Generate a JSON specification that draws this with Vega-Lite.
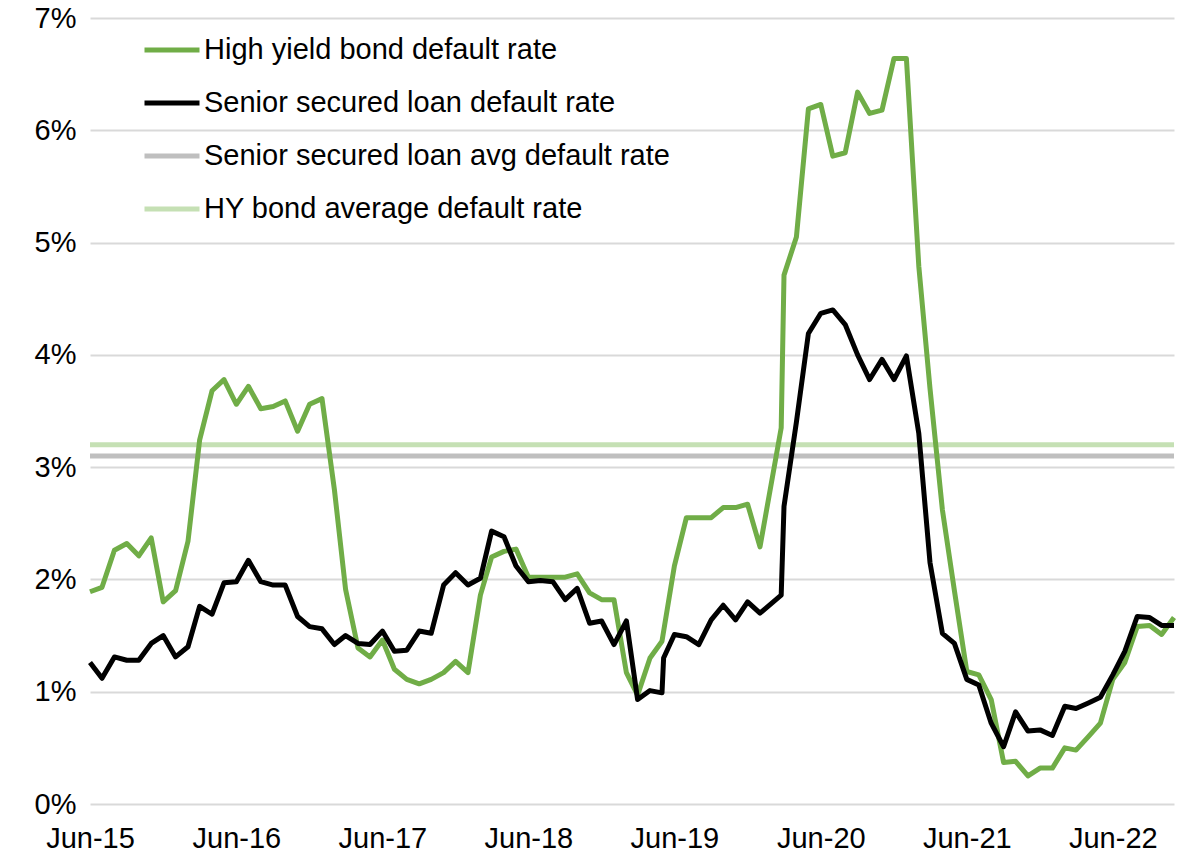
{
  "$schema": "https://vega.github.io/schema/vega-lite/v6.json",
  "width": 1084,
  "height": 786,
  "autosize": "none",
  "padding": {"left": 90, "top": 18, "right": 4, "bottom": 60},
  "background": "white",
  "config": {
    "view": {"stroke": null},
    "font": "Liberation Sans",
    "axis": {"labelFont": "Liberation Sans", "labelColor": "#000000", "labelFontSize": 29}
  },
  "datasets": {
    "rates": [
      {"date": "2015-06-01", "hy": 1.89, "loan": 1.26},
      {"date": "2015-07-01", "hy": 1.93, "loan": 1.12},
      {"date": "2015-08-01", "hy": 2.26, "loan": 1.31},
      {"date": "2015-09-01", "hy": 2.32, "loan": 1.28},
      {"date": "2015-10-01", "hy": 2.21, "loan": 1.28},
      {"date": "2015-11-01", "hy": 2.37, "loan": 1.43},
      {"date": "2015-12-01", "hy": 1.80, "loan": 1.50},
      {"date": "2016-01-01", "hy": 1.90, "loan": 1.31},
      {"date": "2016-02-01", "hy": 2.34, "loan": 1.40},
      {"date": "2016-03-01", "hy": 3.24, "loan": 1.76},
      {"date": "2016-04-01", "hy": 3.68, "loan": 1.69},
      {"date": "2016-05-01", "hy": 3.78, "loan": 1.97},
      {"date": "2016-06-01", "hy": 3.56, "loan": 1.98},
      {"date": "2016-07-01", "hy": 3.72, "loan": 2.17},
      {"date": "2016-08-01", "hy": 3.52, "loan": 1.98},
      {"date": "2016-09-01", "hy": 3.54, "loan": 1.95},
      {"date": "2016-10-01", "hy": 3.59, "loan": 1.95},
      {"date": "2016-11-01", "hy": 3.32, "loan": 1.67},
      {"date": "2016-12-01", "hy": 3.56, "loan": 1.58},
      {"date": "2017-01-01", "hy": 3.61, "loan": 1.56},
      {"date": "2017-02-01", "hy": 2.80, "loan": 1.42},
      {"date": "2017-03-01", "hy": 1.91, "loan": 1.50},
      {"date": "2017-04-01", "hy": 1.39, "loan": 1.43},
      {"date": "2017-05-01", "hy": 1.31, "loan": 1.42},
      {"date": "2017-06-01", "hy": 1.46, "loan": 1.54},
      {"date": "2017-07-01", "hy": 1.20, "loan": 1.36},
      {"date": "2017-08-01", "hy": 1.11, "loan": 1.37},
      {"date": "2017-09-01", "hy": 1.07, "loan": 1.54},
      {"date": "2017-10-01", "hy": 1.11, "loan": 1.52},
      {"date": "2017-11-01", "hy": 1.17, "loan": 1.95},
      {"date": "2017-12-01", "hy": 1.27, "loan": 2.06},
      {"date": "2018-01-01", "hy": 1.17, "loan": 1.95},
      {"date": "2018-02-01", "hy": 1.86, "loan": 2.01},
      {"date": "2018-03-01", "hy": 2.20, "loan": 2.43},
      {"date": "2018-04-01", "hy": 2.25, "loan": 2.38},
      {"date": "2018-05-01", "hy": 2.27, "loan": 2.12},
      {"date": "2018-06-01", "hy": 2.02, "loan": 1.98},
      {"date": "2018-07-01", "hy": 2.02, "loan": 1.99},
      {"date": "2018-08-01", "hy": 2.02, "loan": 1.98},
      {"date": "2018-09-01", "hy": 2.02, "loan": 1.82},
      {"date": "2018-10-01", "hy": 2.05, "loan": 1.92},
      {"date": "2018-11-01", "hy": 1.88, "loan": 1.61},
      {"date": "2018-12-01", "hy": 1.82, "loan": 1.63},
      {"date": "2019-01-01", "hy": 1.82, "loan": 1.42},
      {"date": "2019-02-01", "hy": 1.17, "loan": 1.63},
      {"date": "2019-03-01", "hy": 0.97, "loan": 0.93},
      {"date": "2019-04-01", "hy": 1.30, "loan": 1.01},
      {"date": "2019-05-01", "hy": 1.45, "loan": 0.99},
      {"date": "2019-05-05", "hy": null, "loan": 1.30},
      {"date": "2019-06-01", "hy": 2.12, "loan": 1.51},
      {"date": "2019-07-01", "hy": 2.55, "loan": 1.49},
      {"date": "2019-08-01", "hy": 2.55, "loan": 1.42},
      {"date": "2019-09-01", "hy": 2.55, "loan": 1.64},
      {"date": "2019-10-01", "hy": 2.64, "loan": 1.77},
      {"date": "2019-11-01", "hy": 2.64, "loan": 1.64},
      {"date": "2019-12-01", "hy": 2.67, "loan": 1.80},
      {"date": "2020-01-01", "hy": 2.29, "loan": 1.70},
      {"date": "2020-02-23", "hy": 3.35, "loan": 1.86},
      {"date": "2020-03-01", "hy": 4.71, "loan": 2.65},
      {"date": "2020-04-01", "hy": 5.05, "loan": 3.40},
      {"date": "2020-05-01", "hy": 6.19, "loan": 4.19},
      {"date": "2020-06-01", "hy": 6.23, "loan": 4.37},
      {"date": "2020-07-01", "hy": 5.77, "loan": 4.40},
      {"date": "2020-08-01", "hy": 5.80, "loan": 4.27},
      {"date": "2020-09-01", "hy": 6.34, "loan": 4.00},
      {"date": "2020-10-01", "hy": 6.15, "loan": 3.78},
      {"date": "2020-11-01", "hy": 6.18, "loan": 3.96},
      {"date": "2020-12-01", "hy": 6.64, "loan": 3.78},
      {"date": "2021-01-01", "hy": 6.64, "loan": 3.99},
      {"date": "2021-02-01", "hy": 4.79, "loan": 3.30},
      {"date": "2021-03-01", "hy": 3.70, "loan": 2.15},
      {"date": "2021-04-01", "hy": 2.62, "loan": 1.52},
      {"date": "2021-05-01", "hy": 1.90, "loan": 1.43},
      {"date": "2021-06-01", "hy": 1.18, "loan": 1.11},
      {"date": "2021-07-01", "hy": 1.15, "loan": 1.06},
      {"date": "2021-08-01", "hy": 0.93, "loan": 0.72},
      {"date": "2021-09-01", "hy": 0.37, "loan": 0.51},
      {"date": "2021-10-01", "hy": 0.38, "loan": 0.82},
      {"date": "2021-11-01", "hy": 0.25, "loan": 0.65},
      {"date": "2021-12-01", "hy": 0.32, "loan": 0.66},
      {"date": "2022-01-01", "hy": 0.32, "loan": 0.61},
      {"date": "2022-02-01", "hy": 0.50, "loan": 0.87},
      {"date": "2022-03-01", "hy": 0.48, "loan": 0.85},
      {"date": "2022-04-01", "hy": 0.60, "loan": 0.90},
      {"date": "2022-05-01", "hy": 0.72, "loan": 0.95},
      {"date": "2022-06-01", "hy": 1.11, "loan": 1.15},
      {"date": "2022-07-01", "hy": 1.26, "loan": 1.36},
      {"date": "2022-08-01", "hy": 1.58, "loan": 1.67},
      {"date": "2022-09-01", "hy": 1.59, "loan": 1.66},
      {"date": "2022-10-01", "hy": 1.51, "loan": 1.59},
      {"date": "2022-11-01", "hy": 1.66, "loan": 1.59}
    ],
    "averages": [
      {"series": "Senior secured loan avg default rate", "rate": 3.1},
      {"series": "HY bond average default rate", "rate": 3.2}
    ]
  },
  "layer": [
    {
      "data": {"name": "averages"},
      "mark": {"type": "rule", "strokeWidth": 5},
      "encoding": {
        "y": {"field": "rate", "type": "quantitative"},
        "color": {"field": "series", "type": "nominal"}
      }
    },
    {
      "data": {"name": "rates"},
      "transform": [
        {"filter": "datum.hy != null"},
        {"calculate": "'High yield bond default rate'", "as": "series"}
      ],
      "mark": {"type": "line", "strokeWidth": 5, "strokeJoin": "round", "strokeCap": "butt"},
      "encoding": {
        "x": {
          "field": "date",
          "type": "temporal",
          "scale": {"type": "utc", "domain": [{"year": 2015, "month": 6, "date": 1, "utc": true}, {"year": 2022, "month": 11, "date": 1, "utc": true}]},
          "axis": {
            "title": null,
            "grid": false,
            "domain": false,
            "ticks": false,
            "labelPadding": 20,
            "values": [
              {"year": 2015, "month": 6, "date": 1, "utc": true},
              {"year": 2016, "month": 6, "date": 1, "utc": true},
              {"year": 2017, "month": 6, "date": 1, "utc": true},
              {"year": 2018, "month": 6, "date": 1, "utc": true},
              {"year": 2019, "month": 6, "date": 1, "utc": true},
              {"year": 2020, "month": 6, "date": 1, "utc": true},
              {"year": 2021, "month": 6, "date": 1, "utc": true},
              {"year": 2022, "month": 6, "date": 1, "utc": true}
            ],
            "labelExpr": "utcFormat(datum.value, '%b-%y')",
            "labelOverlap": false,
            "labelFlush": false
          }
        },
        "y": {"field": "hy", "type": "quantitative"},
        "color": {"field": "series", "type": "nominal"}
      }
    },
    {
      "data": {"name": "rates"},
      "transform": [
        {"filter": "datum.loan != null"},
        {"calculate": "'Senior secured loan default rate'", "as": "series"}
      ],
      "mark": {"type": "line", "strokeWidth": 5, "strokeJoin": "round", "strokeCap": "butt"},
      "encoding": {
        "x": {"field": "date", "type": "temporal"},
        "y": {"field": "loan", "type": "quantitative"},
        "color": {"field": "series", "type": "nominal"}
      }
    }
  ],
  "resolve": {"scale": {"color": "shared", "y": "shared", "x": "shared"}},
  "encoding": {
    "y": {
      "type": "quantitative",
      "scale": {"domain": [0, 7], "nice": false},
      "axis": {
        "title": null,
        "values": [0, 1, 2, 3, 4, 5, 6, 7],
        "labelExpr": "datum.value + '%'",
        "grid": true,
        "gridColor": "#D9D9D9",
        "gridWidth": 1.8,
        "domain": false,
        "ticks": false,
        "labelPadding": 14
      }
    },
    "color": {
      "type": "nominal",
      "scale": {
        "domain": ["High yield bond default rate", "Senior secured loan default rate", "Senior secured loan avg default rate", "HY bond average default rate"],
        "range": ["#70AD47", "#000000", "#BFBFBF", "#C5E0B4"]
      },
      "legend": {
        "title": null,
        "orient": "none",
        "legendX": 52,
        "legendY": 2,
        "symbolType": "stroke",
        "symbolSize": 3025,
        "symbolStrokeWidth": 5,
        "labelFontSize": 29,
        "labelFont": "Liberation Sans",
        "labelColor": "#000000",
        "labelOffset": 2,
        "rowPadding": 8,
        "padding": 0,
        "labelLimit": 600
      }
    }
  }
}
